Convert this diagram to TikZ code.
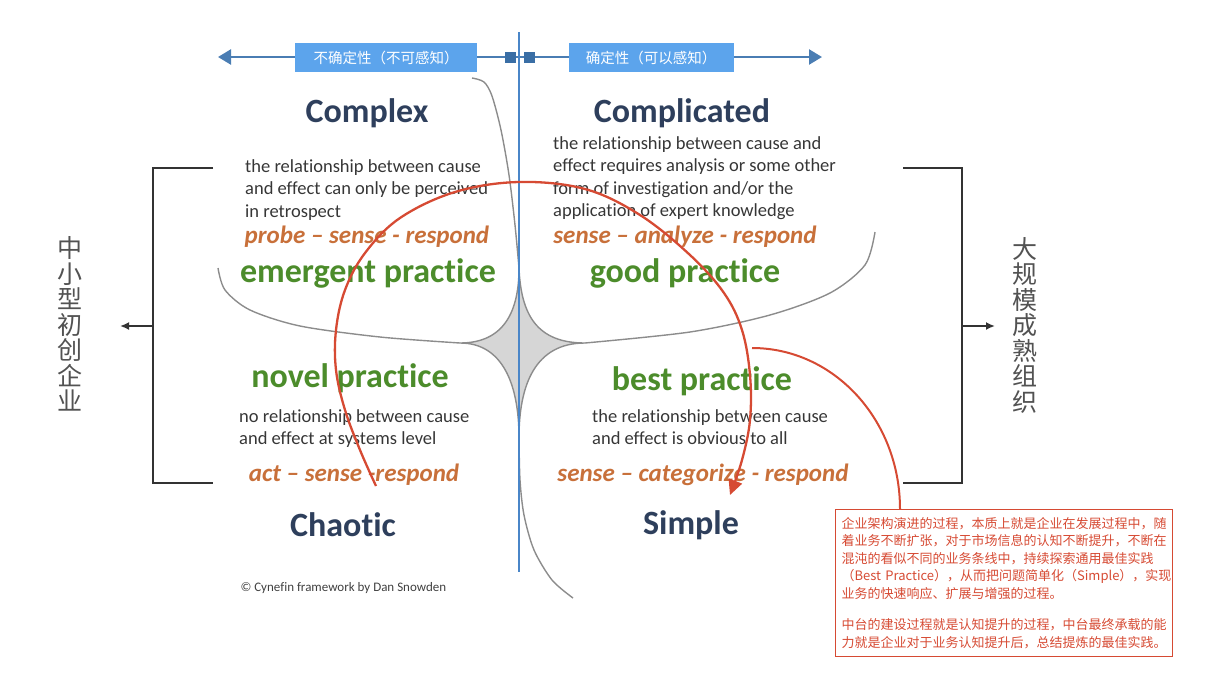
\documentclass[tikz,border=0pt]{standalone}
\usepackage{fontspec}
\setmainfont{Carlito}[Ligatures={TeX,NoCommon}]
\newfontfamily\cjk{Noto Sans CJK SC}
\usetikzlibrary{positioning,arrows.meta}

\definecolor{navy}{HTML}{2E3F5C}
\definecolor{rust}{HTML}{C8703A}
\definecolor{leaf}{HTML}{4C8C2B}
\definecolor{ink}{HTML}{363636}
\definecolor{axisblue}{HTML}{4A7DB3}
\definecolor{tagblue}{HTML}{5CA4EC}
\definecolor{knot}{HTML}{3A6EA5}
\definecolor{divider}{HTML}{4A86C8}
\definecolor{edge}{HTML}{8C8C8C}
\definecolor{loopred}{HTML}{D64A33}

\begin{document}
\begin{tikzpicture}[
  x=1pt, y=-1pt,
  zonetitle/.style={font=\fontsize{34}{36}\selectfont\bfseries, text=navy},
  causetext/.style={font=\fontsize{18.5}{22.5}\selectfont, text=ink, align=left,
                    anchor=north west, inner sep=0pt},
  methodtext/.style={font=\fontsize{25}{27}\selectfont\bfseries\itshape, text=rust},
  practicetext/.style={font=\fontsize{34}{36}\selectfont\bfseries, text=leaf},
  tagbox/.style={fill=tagblue, text=white, font=\cjk\fontsize{14.5}{16}\selectfont,
                 minimum height=29pt, inner sep=0pt},
  knotbox/.style={fill=knot, minimum size=11pt, inner sep=0pt},
  axisline/.style={draw=axisblue, line width=2.5pt,
                   {Triangle[length=13pt,width=15pt]}-{Triangle[length=13pt,width=15pt]}},
  boundline/.style={draw=edge, line width=1.4pt},
  sidetext/.style={font=\cjk\fontsize{25}{25.5}\selectfont, text=black!68, align=center,
                   inner sep=0pt},
  bracketline/.style={draw=black!80, line width=2.4pt},
  sidearrow/.style={bracketline, -{Latex[length=9pt,width=8pt]}},
  looparrow/.style={draw=loopred, line width=2.3pt},
  notebox/.style={draw=loopred, line width=1.3pt, text=loopred, anchor=north west,
                  font=\cjk\fontsize{13}{17.5}\selectfont, align=left,
                  text width=325pt, inner xsep=6pt, minimum width=337pt,
                  minimum height=147pt},
]
  \useasboundingbox (0,0) rectangle (1216,694);

  % domain boundaries
  \draw[boundline, fill=gray!32]
    (460,343) .. controls (505,343) and (519,310) .. (519,268)
              .. controls (521,315) and (537,343) .. (585,343)
              .. controls (535,343) and (519,385) .. (519,438)
              .. controls (519,385) and (503,343) .. (460,343) -- cycle;
  \draw[boundline] plot[smooth] coordinates
    {(472,78) (484,82) (492,96) (501,130) (509,175) (515,225) (519,268)};
  \draw[boundline] plot[smooth] coordinates
    {(218,268) (225,290) (250,310) (300,326) (380,337) (460,343)};
  \draw[boundline] plot[smooth] coordinates
    {(875,232) (865,265) (830,293) (770,315) (690,332) (585,343)};
  \draw[boundline] plot[smooth] coordinates
    {(519,438) (520,480) (524,515) (534,550) (552,580) (573,598)};

  % top axis
  \coordinate (axisl) at (218,57);
  \coordinate (axisr) at (822,57);
  \draw[axisline] (axisl) -- (axisr);
  \node[tagbox, minimum width=182pt] (unknown) at (386,57.5) {不确定性（不可感知）};
  \node[tagbox, minimum width=165pt] (known) at (651,57.5) {确定性（可以感知）};
  \node[knotbox] (knotl) at (510,57) {};
  \node[knotbox] (knotr) at (529,57) {};
  \draw[divider, line width=1.8pt] (519,32) -- (519,572);

  % Complex
  \node[zonetitle] (complex) at (367,113) {Complex};
  \node[causetext] (complexcause) at (245,159)
    {the relationship between cause\\ and effect can only be perceived\\ in retrospect};
  \node[methodtext] (probe) at (367,237) {probe – sense - respond};
  \node[practicetext] (emergent) at (368,273) {emergent practice};

  % Complicated
  \node[zonetitle] (complicated) at (682,113) {Complicated};
  \node[causetext] (complicatedcause) at (553,136)
    {the relationship between cause and\\ effect requires analysis or some other\\
     form of investigation and/or the\\ application of expert knowledge};
  \node[methodtext] (analyze) at (685,237) {sense – analyze - respond};
  \node[practicetext] (good) at (685,273) {good practice};

  % Chaotic
  \node[practicetext] (novel) at (350,378) {novel practice};
  \node[causetext] (chaoticcause) at (239,409)
    {no relationship between cause\\ and effect at systems level};
  \node[methodtext] (act) at (354,475) {act – sense -respond};
  \node[zonetitle] (chaotic) at (343,525) {Chaotic};
  \node[font=\fontsize{13}{15}\selectfont, text=black!75, anchor=west] (credit)
    at (237,588) {© Cynefin framework by Dan Snowden};

  % Simple
  \node[practicetext] (best) at (702,381) {best practice};
  \node[causetext] (simplecause) at (592,409)
    {the relationship between cause\\ and effect is obvious to all};
  \node[methodtext] (categorize) at (703,475) {sense – categorize - respond};
  \node[zonetitle] (simple) at (691,525) {Simple};

  % side brackets
  \node[sidetext] (small) at (70,324) {中\\小\\型\\初\\创\\企\\业};
  \node[sidetext] (large) at (1025,325) {大\\规\\模\\成\\熟\\组\\织};
  \draw[bracketline] (213,168) -| (153,483) -- (213,483);
  \draw[bracketline] (903,168) -| (962,483) -- (903,483);
  \coordinate (lmid) at (153,326);
  \coordinate (ltip) at (120,326);
  \coordinate (rmid) at (962,326);
  \coordinate (rtip) at (995,326);
  \draw[sidearrow] (lmid) -- (ltip);
  \draw[sidearrow] (rmid) -- (rtip);

  % evolution loop
  \draw[looparrow, -{Triangle[length=15pt,width=14pt]}] plot[smooth, tension=0.6] coordinates
    {(376,486) (360,450) (345,410) (336,370) (336,330) (345,290) (365,253) (400,218)
     (455,192) (519,182) (585,189) (640,215) (690,255) (724,293) (742,330) (750,375)
     (750,420) (742,460) (730,495)};

  \node[notebox] (note) at (835,509)
    {企业架构演进的过程，本质上就是企业在发展过程中，随\\
     着业务不断扩张，对于市场信息的认知不断提升，不断在\\
     混沌的看似不同的业务条线中，持续探索通用最佳实践\\
     （Best Practice），从而把问题简单化（Simple），实现\\
     业务的快速响应、扩展与增强的过程。\\[14pt]
     中台的建设过程就是认知提升的过程，中台最终承载的能\\
     力就是企业对于业务认知提升后，总结提炼的最佳实践。};
  \coordinate (branch) at (752,348);
  \draw[looparrow, line width=2pt] (branch) .. controls (834,348) and (900,420)
    .. ([xshift=65pt]note.north west);
\end{tikzpicture}
\end{document}
